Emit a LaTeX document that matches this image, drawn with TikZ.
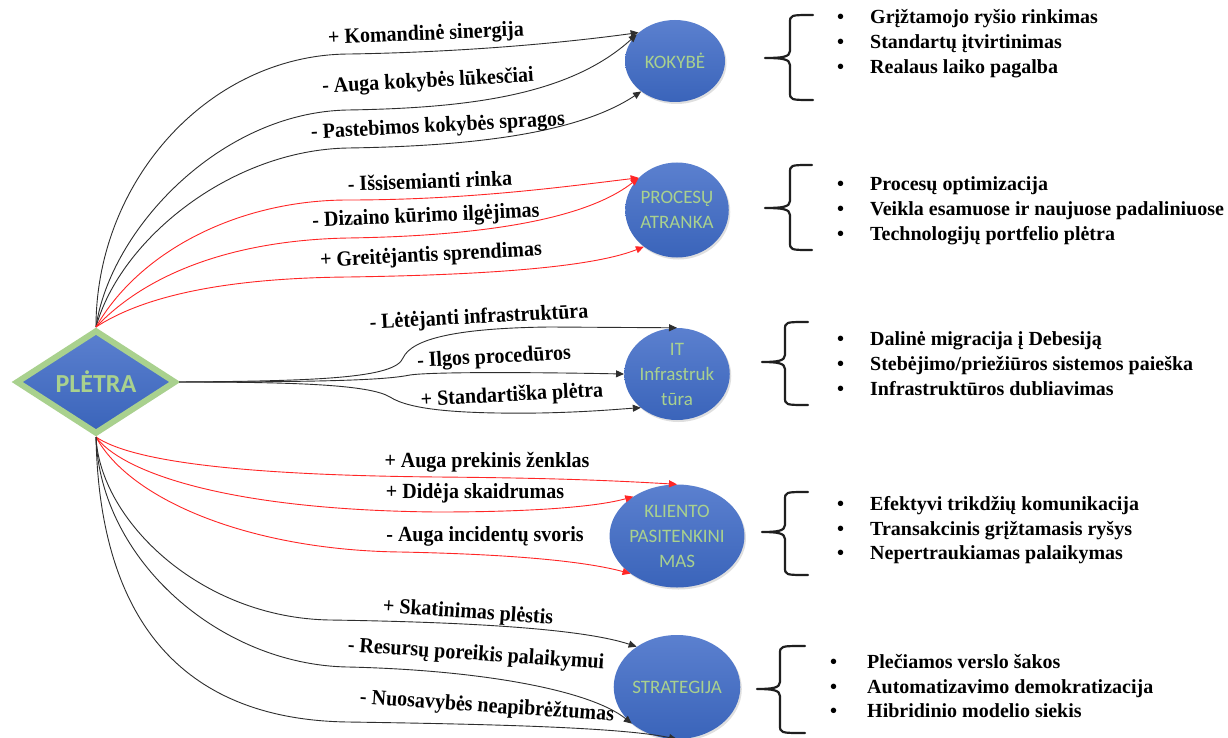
\documentclass[tikz,border=0pt]{standalone}
\usepackage{fontspec}
\setmainfont{Liberation Serif}
\newfontfamily\calib{Carlito}
\usetikzlibrary{shapes.geometric,arrows.meta,shadows}

\definecolor{blueTop}{HTML}{5B80CF}
\definecolor{blueBot}{HTML}{3A64BA}
\definecolor{leafgreen}{HTML}{A9D18E}
\definecolor{linkgray}{HTML}{2E2E2E}
\definecolor{linkred}{HTML}{FF2626}

\tikzset{
  topic/.style={ellipse, inner sep=0pt, top color=blueTop, bottom color=blueBot,
    draw=none, text=leafgreen, align=center,
    font=\calib\fontsize{19}{25}\selectfont,
    drop shadow={shadow xshift=1.5pt, shadow yshift=-2pt, opacity=0.25}},
  hub/.style={diamond, inner sep=0pt, minimum width=160pt, minimum height=104pt,
    draw=leafgreen, line width=6pt, top color=blueTop, bottom color=blueBot,
    text=leafgreen, font=\calib\bfseries\fontsize{26}{30}\selectfont,
    drop shadow={shadow xshift=1.5pt, shadow yshift=-2.5pt, opacity=0.25}},
  lbl/.style={inner sep=0pt, font=\bfseries\fontsize{20}{24}\selectfont},
  item/.style={anchor=base west, inner sep=0pt, font=\bfseries\fontsize{20}{24}\selectfont},
  blink/.style={draw=linkgray, line width=0.9pt, -{Triangle[length=8pt,width=7pt]}},
  rlink/.style={draw=linkred, line width=0.9pt, -{Triangle[length=8pt,width=7pt]}},
  brace/.style={draw=black!88, line width=2.2pt, line cap=round, line join=round},
}

% curly brace: #1 stem x, #2 arm end x, #3 top y, #4 bottom y, #5 tip x, #6 tip y
\newcommand\drawbrace[6]{%
  \draw[brace] (#2,#3) .. controls (#1,#3) and (#1,#3) .. (#1,#3+8)
    -- (#1,#6-7) .. controls (#1,#6-1) and (#1-8,#6) .. (#5,#6)
    .. controls (#1-8,#6) and (#1,#6+1) .. (#1,#6+7)
    -- (#1,#4-8) .. controls (#1,#4) and (#1,#4) .. (#2,#4);}
\newcommand\bul[1]{\makebox[33pt][l]{•}#1}
\newcommand\bulw[1]{\makebox[37pt][l]{•}#1}
% slightly tall lettering for the link labels
\newcommand\tall[1]{\scalebox{1}[1.08]{#1}}

\begin{document}
\begin{tikzpicture}[x=1pt,y=-1pt]
\useasboundingbox (0,0) rectangle (1228,738);
\fill[white] (0,0) rectangle (1228,738);

% central hub and the five topics
\node[hub] (pletra) at (96,382) {PLĖTRA};
\node[topic, minimum width=100pt, minimum height=82pt] (kokybe) at (675,61) {KOKYBĖ};
\node[topic, minimum width=91pt, minimum height=95pt] (procesu) at (677,210) {PROCESŲ\\ATRANKA};
\node[topic, minimum width=92pt, minimum height=92pt] (it) at (677,374) {IT\\Infrastruk\\tūra};
\node[topic, minimum width=101pt, minimum height=103pt] (kliento) at (677,536) {KLIENTO\\PASITENKINI\\MAS};
\node[topic, minimum width=102pt, minimum height=104pt] (strategija) at (677,687) {STRATEGIJA};

% links to KOKYBĖ
\draw[blink] (pletra.north) .. controls (96,180) and (210,54) .. (350,54)
  .. controls (470,52) and (570,42) .. (kokybe.142);
\draw[blink] (pletra.north) .. controls (110,230) and (220,112) .. (348,110)
  .. controls (470,108) and (570,95) .. (kokybe.145);
\draw[blink] (pletra.north) .. controls (120,240) and (230,150) .. (348,148)
  .. controls (480,146) and (580,132) .. (kokybe.222);

% links to PROCESŲ ATRANKA
\draw[rlink] (pletra.north) .. controls (140,250) and (240,200) .. (348,200)
  .. controls (470,200) and (570,186) .. (procesu.140);
\draw[rlink] (pletra.north) .. controls (150,270) and (240,240) .. (348,238)
  .. controls (480,236) and (585,220) .. (procesu.140);
\draw[rlink] (pletra.north) .. controls (150,292) and (240,278) .. (348,277)
  .. controls (480,275) and (590,268) .. (procesu.228);

% links to IT infrastruktūra
\draw[blink] (pletra.east) .. controls (320,381) and (395,378) .. (403,358)
  .. controls (412,338) and (460,328) .. (550,327) -- (it.north);
\draw[blink] (pletra.east) .. controls (330,382) and (385,380) .. (410,375)
  .. controls (430,372) and (520,372) .. (it.west);
\draw[blink] (pletra.east) .. controls (300,382) and (370,385) .. (390,397)
  .. controls (410,410) and (460,414) .. (540,413)
  .. controls (590,412) and (620,409) .. (it.223);

% links to KLIENTO PASITENKINIMAS
\draw[rlink] (pletra.south) .. controls (130,460) and (230,475) .. (437,477)
  .. controls (560,478) and (620,481) .. (kliento.north);
\draw[rlink] (pletra.south) .. controls (120,470) and (220,510) .. (437,512)
  .. controls (540,512) and (600,506) .. (kliento.138);
\draw[rlink] (pletra.south) .. controls (130,500) and (250,550) .. (400,552)
  .. controls (500,554) and (580,560) .. (kliento.219);

% links to STRATEGIJA
\draw[blink] (pletra.south) .. controls (100,520) and (200,618) .. (330,620)
  .. controls (460,622) and (580,628) .. (strategija.135);
\draw[blink] (pletra.south) .. controls (100,560) and (220,665) .. (348,667)
  .. controls (480,670) and (590,690) .. (strategija.219);
\draw[blink] (pletra.south) .. controls (100,640) and (200,720) .. (348,722)
  .. controls (480,724) and (620,727) .. (strategija.south);

% link labels
\node[lbl, rotate=2.5] (l1) at (426,35) {\tall{+ Komandinė sinergija}};
\node[lbl, rotate=3] (l2) at (428,82) {\tall{- Auga kokybės lūkesčiai}};
\node[lbl, rotate=3] (l3) at (438,127) {\tall{- Pastebimos kokybės spragos}};
\node[lbl, rotate=2] (l4) at (430,181) {\tall{- Išsisemianti rinka}};
\node[lbl, rotate=2.5] (l5) at (426,217) {\tall{- Dizaino kūrimo ilgėjimas}};
\node[lbl, rotate=3] (l6) at (431,256) {\tall{+ Greitėjantis sprendimas}};
\node[lbl, rotate=3] (l7) at (479,318) {\tall{- Lėtėjanti infrastruktūra}};
\node[lbl, rotate=3] (l8) at (494,358) {\tall{- Ilgos procedūros}};
\node[lbl, rotate=3] (l9) at (512,396) {\tall{+ Standartiška plėtra}};
\node[lbl] (l10) at (487,462) {\tall{+ Auga prekinis ženklas}};
\node[lbl] (l11) at (475,493) {\tall{+ Didėja skaidrumas}};
\node[lbl] (l12) at (485,536) {\tall{- Auga incidentų svoris}};
\node[lbl, rotate=-4] (l13) at (468,613) {\tall{+ Skatinimas plėstis}};
\node[lbl, rotate=-4] (l14) at (476,655) {\tall{- Resursų poreikis palaikymui}};
\node[lbl, rotate=-4] (l15) at (487,707) {\tall{- Nuosavybės neapibrėžtumas}};

% braces
\drawbrace{790}{813}{15}{100}{765}{58}
\drawbrace{790}{812}{165}{250}{765}{208}
\drawbrace{785}{808}{322}{405}{762}{362}
\drawbrace{785}{808}{492}{575}{762}{532}
\drawbrace{780}{805}{646}{733}{757}{689}

% bullet lists
\node[item] (a1) at (837,24) {\bul{Grįžtamojo ryšio rinkimas}};
\node[item] (a2) at (837,49) {\bul{Standartų įtvirtinimas}};
\node[item] (a3) at (837,74) {\bul{Realaus laiko pagalba}};

\node[item] (b1) at (837,190) {\bul{Procesų optimizacija}};
\node[item] (b2) at (837,215) {\bul{Veikla esamuose ir naujuose padaliniuose}};
\node[item] (b3) at (837,240) {\bul{Technologijų portfelio plėtra}};

\node[item] (c1) at (837,345) {\bul{Dalinė migracija į Debesiją}};
\node[item] (c2) at (837,370) {\bul{Stebėjimo/priežiūros sistemos paieška}};
\node[item] (c3) at (837,395) {\bul{Infrastruktūros dubliavimas}};

\node[item] (d1) at (837,510) {\bul{Efektyvi trikdžių komunikacija}};
\node[item] (d2) at (837,535) {\bul{Transakcinis grįžtamasis ryšys}};
\node[item] (d3) at (837,559) {\bul{Nepertraukiamas palaikymas}};

\node[item] (e1) at (830,668) {\bulw{Plečiamos verslo šakos}};
\node[item] (e2) at (830,693) {\bulw{Automatizavimo demokratizacija}};
\node[item] (e3) at (830,717) {\bulw{Hibridinio modelio siekis}};
\end{tikzpicture}
\end{document}
